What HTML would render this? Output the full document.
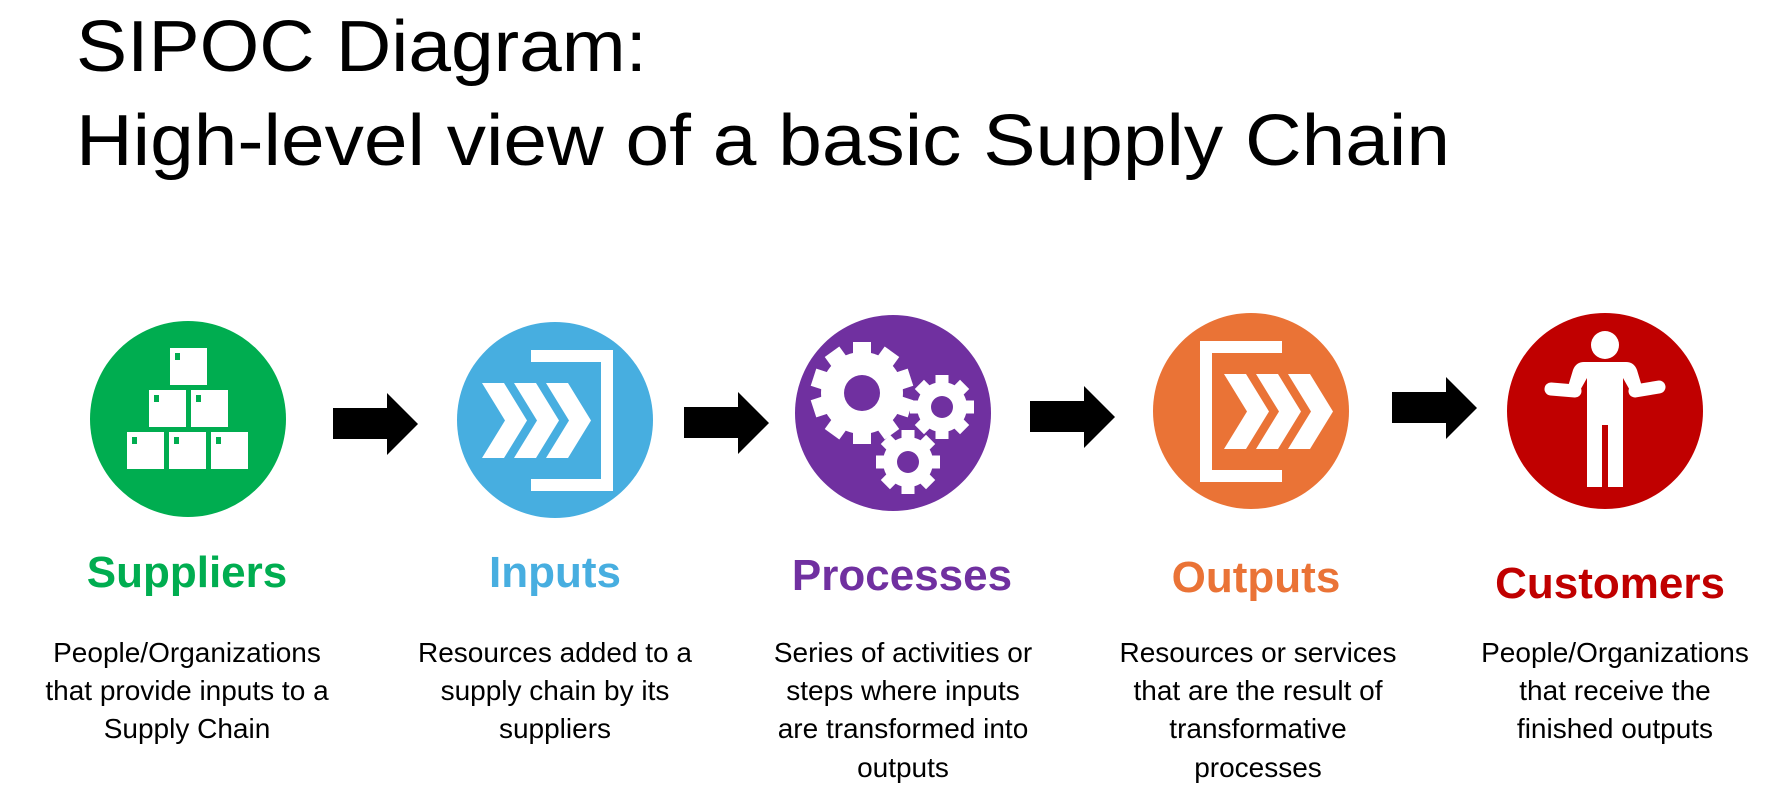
<!DOCTYPE html>
<html><head><meta charset="utf-8"><style>
html,body{margin:0;padding:0;background:#fff;}
svg{display:block;}
text{font-family:"Liberation Sans",sans-serif;}
</style></head><body>
<svg width="1791" height="809" viewBox="0 0 1791 809" xmlns="http://www.w3.org/2000/svg">
<defs>
<g id="chev"><polygon points="0,0 22,0 45,37.5 22,75 0,75 23,37.5" fill="#fff"/></g>
<g id="arrow"><polygon points="0,15 54,15 54,0 85,31 54,62 54,46 0,46" fill="#000"/></g>
<g id="box"><rect x="0" y="0" width="37" height="37" fill="#fff"/><rect x="5" y="5" width="5" height="7" fill="#00ad50"/></g>
<g id="gearL">
<circle r="41" fill="#fff"/>
<g fill="#fff"><rect x="-9" y="-51" width="18" height="102"/><rect x="-9" y="-51" width="18" height="102" transform="rotate(36)"/><rect x="-9" y="-51" width="18" height="102" transform="rotate(72)"/><rect x="-9" y="-51" width="18" height="102" transform="rotate(108)"/><rect x="-9" y="-51" width="18" height="102" transform="rotate(144)"/></g>
<circle r="18" fill="#7030a0"/>
</g>
<g id="gearS">
<circle r="25" fill="#fff"/>
<g fill="#fff"><rect x="-6.5" y="-32" width="13" height="64"/><rect x="-6.5" y="-32" width="13" height="64" transform="rotate(45)"/><rect x="-6.5" y="-32" width="13" height="64" transform="rotate(90)"/><rect x="-6.5" y="-32" width="13" height="64" transform="rotate(135)"/></g>
<circle r="11" fill="#7030a0"/>
</g>
</defs>

<text x="76" y="71" font-size="72" textLength="571" lengthAdjust="spacingAndGlyphs">SIPOC Diagram:</text>
<text x="76" y="165" font-size="72" textLength="1374" lengthAdjust="spacingAndGlyphs">High-level view of a basic Supply Chain</text>

<circle cx="188" cy="419" r="98" fill="#00ad50"/>
<use href="#box" x="170" y="348"/>
<use href="#box" x="149" y="390"/><use href="#box" x="191" y="390"/>
<use href="#box" x="127" y="432"/><use href="#box" x="169" y="432"/><use href="#box" x="211" y="432"/>

<use href="#arrow" x="333" y="393"/>

<circle cx="555" cy="420" r="98" fill="#47aee0"/>
<use href="#chev" x="482" y="383"/><use href="#chev" x="514" y="383"/><use href="#chev" x="546" y="383"/>
<path d="M531,350 H613 V491 H531 V479 H601 V362 H531 Z" fill="#fff"/>

<use href="#arrow" x="684" y="392"/>

<circle cx="893" cy="413" r="98" fill="#7030a0"/>
<use href="#gearL" x="862" y="393"/>
<use href="#gearS" x="942" y="407"/>
<use href="#gearS" x="908" y="462"/>

<use href="#arrow" x="1030" y="386"/>

<circle cx="1251" cy="411" r="98" fill="#ea7336"/>
<path d="M1282,341 H1200 V482 H1282 V470 H1212 V353 H1282 Z" fill="#fff"/>
<use href="#chev" x="1224" y="374"/><use href="#chev" x="1256" y="374"/><use href="#chev" x="1288" y="374"/>

<use href="#arrow" x="1392" y="377"/>

<circle cx="1605" cy="411" r="98" fill="#c00000"/>
<circle cx="1605" cy="345" r="14" fill="#fff"/>
<path d="M1584,362 H1626 Q1634,362 1637,370 L1643,390 L1632,394 L1623,378 V487 H1608 V425 H1602 V487 H1587 V378 L1578,394 L1567,390 L1573,370 Q1576,362 1584,362 Z" fill="#fff"/>
<line x1="1575" y1="391" x2="1551" y2="389" stroke="#fff" stroke-width="13" stroke-linecap="round"/>
<line x1="1635" y1="391" x2="1659" y2="387" stroke="#fff" stroke-width="13" stroke-linecap="round"/>

<g font-weight="bold" font-size="44" text-anchor="middle">
<text x="187" y="587" fill="#00ad50">Suppliers</text>
<text x="555" y="587" fill="#47aee0">Inputs</text>
<text x="902" y="590" fill="#7030a0">Processes</text>
<text x="1256" y="592" fill="#ea7336">Outputs</text>
<text x="1610" y="598" fill="#c00000">Customers</text>
</g>

<g font-size="28" text-anchor="middle" fill="#000">
<text x="187" y="662">People/Organizations</text>
<text x="187" y="700">that provide inputs to a</text>
<text x="187" y="738">Supply Chain</text>

<text x="555" y="662">Resources added to a</text>
<text x="555" y="700">supply chain by its</text>
<text x="555" y="738">suppliers</text>

<text x="903" y="662">Series of activities or</text>
<text x="903" y="700">steps where inputs</text>
<text x="903" y="738">are transformed into</text>
<text x="903" y="777">outputs</text>

<text x="1258" y="662">Resources or services</text>
<text x="1258" y="700">that are the result of</text>
<text x="1258" y="738">transformative</text>
<text x="1258" y="777">processes</text>

<text x="1615" y="662">People/Organizations</text>
<text x="1615" y="700">that receive the</text>
<text x="1615" y="738">finished outputs</text>
</g>
</svg>
</body></html>
